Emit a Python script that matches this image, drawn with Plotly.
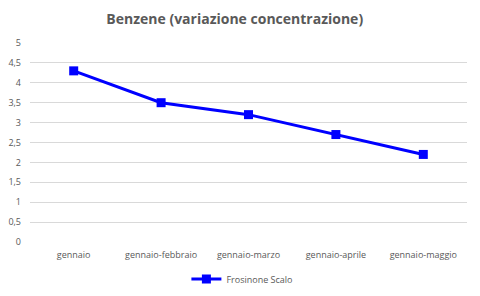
import plotly.graph_objects as go

categories = ["gennaio", "gennaio-febbraio", "gennaio-marzo", "gennaio-aprile", "gennaio-maggio"]
values = [4.3, 3.5, 3.2, 2.7, 2.2]
series_name = "Frosinone Scalo"
y_ticks = [0, 0.5, 1, 1.5, 2, 2.5, 3, 3.5, 4, 4.5, 5]
y_tick_labels = ["0", "0,5", "1", "1,5", "2", "2,5", "3", "3,5", "4", "4,5", "5"]

fig = go.Figure()
fig.add_trace(go.Scatter(
    x=list(range(len(categories))), y=values, name=series_name,
    mode="lines+markers",
    line=dict(color="#0000FF", width=3),
    marker=dict(symbol="square", size=9, color="#0000FF"),
))

font_family = "Open Sans, Liberation Sans, sans-serif"
fig.update_layout(
    width=480, height=296,
    margin=dict(l=30, r=13, t=43, b=54, autoexpand=False),
    paper_bgcolor="white", plot_bgcolor="white",
    title=dict(text="<b>Benzene (variazione concentrazione)</b>", x=0.489, xanchor="center",
               xref="container", y=1 - 19 / 296, yanchor="middle",
               font=dict(family=font_family, size=14, color="#595959")),
    font=dict(family=font_family, size=9, color="#595959"),
    showlegend=True,
    legend=dict(orientation="h", x=0.505, xanchor="center", xref="container",
                y=1 - 279 / 296, yanchor="middle", yref="container",
                font=dict(size=9, color="#595959"), itemwidth=30),
    xaxis=dict(range=[-0.5, len(categories) - 0.5], tickvals=list(range(len(categories))),
               ticktext=categories, showgrid=False, zeroline=False, showline=False,
               ticks="", ticklabelstandoff=6, fixedrange=True),
    yaxis=dict(range=[0, 5], tickvals=y_ticks, ticktext=y_tick_labels,
               showgrid=True, gridcolor="#d9d9d9", gridwidth=1, zeroline=False,
               showline=False, ticks="", ticklabelstandoff=8, fixedrange=True),
)

fig.write_html("out.html")
